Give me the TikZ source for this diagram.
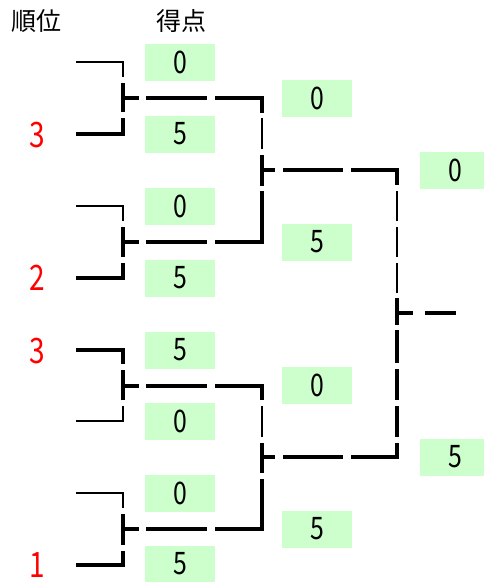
\documentclass[tikz,border=0pt]{standalone}
\usepackage{fontspec}
\setmainfont{Noto Sans CJK JP}
\newfontfamily\narrowdigits[FakeStretch=0.8]{Noto Sans CJK JP}
\definecolor{scoregreen}{HTML}{CCFFCC}
\tikzset{
  win/.style={line width=3.6pt},
  lose/.style={line width=1.2pt},
  score/.style={fill=scoregreen, minimum width=70pt, minimum height=37pt, inner sep=0pt, font=\narrowdigits\fontsize{31}{31}\selectfont},
  rank/.style={text=red, font=\narrowdigits\fontsize{35}{35}\selectfont},
  head/.style={font=\fontsize{25}{25}\selectfont}
}
\begin{document}
\begin{tikzpicture}[x=1pt,y=-1pt]
\useasboundingbox (0,0) rectangle (483,582);
% headers
\node[head] (hrank) at (37,21) {順位};
\node[head] (hscore) at (181,21) {得点};
% ranks
\node[rank] (r1) at (37,135) {3};
\node[rank] (r2) at (37,278) {2};
\node[rank] (r3) at (37,351) {3};
\node[rank] (r4) at (37,565) {1};
% scores
\node[score] (s11) at (180,62) {0};
\node[score] (s12) at (180,134) {5};
\node[score] (s13) at (180,206) {0};
\node[score] (s14) at (180,278) {5};
\node[score] (s15) at (180,350) {5};
\node[score] (s16) at (180,421) {0};
\node[score] (s17) at (180,493) {0};
\node[score] (s18) at (180,564) {5};
\node[score] (s21) at (317,98) {0};
\node[score] (s22) at (317,242) {5};
\node[score] (s23) at (317,385) {0};
\node[score] (s24) at (317,529) {5};
\node[score] (s31) at (455,170) {0};
\node[score] (s32) at (455,457) {5};
% first round
\draw[lose] (76,62) -- (123,62) -- (123,77);
\draw[win] (123,83) -- (123,112);
\draw[win] (76,134) -- (123,134) -- (123,118);
\draw[win] (123,98) -- (139,98);
\draw[win] (146,98) -- (207,98);
\draw[win] (215,98) -- (262,98) -- (262,113);
\draw[lose] (76,206) -- (123,206) -- (123,221);
\draw[win] (123,227) -- (123,257);
\draw[win] (76,278) -- (123,278) -- (123,263);
\draw[win] (123,242) -- (139,242);
\draw[win] (146,242) -- (207,242);
\draw[win] (215,242) -- (262,242) -- (262,191);
\draw[win] (76,350) -- (123,350) -- (123,364);
\draw[win] (123,370) -- (123,400);
\draw[lose] (123,406) -- (123,421) -- (76,421);
\draw[win] (123,386) -- (139,386);
\draw[win] (146,386) -- (207,386);
\draw[win] (215,386) -- (262,386) -- (262,400);
\draw[lose] (76,493) -- (123,493) -- (123,508);
\draw[win] (123,514) -- (123,545);
\draw[win] (76,565) -- (123,565) -- (123,551);
\draw[win] (123,529) -- (139,529);
\draw[win] (146,529) -- (207,529);
\draw[win] (215,529) -- (262,529) -- (262,479);
% second round
\draw[lose] (262,118) -- (262,149);
\draw[win] (262,155) -- (262,186);
\draw[win] (262,170) -- (275,170);
\draw[win] (283,170) -- (343,170);
\draw[win] (351,170) -- (397,170) -- (397,185);
\draw[lose] (262,406) -- (262,437);
\draw[win] (262,443) -- (262,473);
\draw[win] (262,457) -- (275,457);
\draw[win] (283,457) -- (343,457);
\draw[win] (351,457) -- (397,457) -- (397,443);
% final
\draw[lose] (397,191) -- (397,221);
\draw[lose] (397,227) -- (397,257);
\draw[lose] (397,263) -- (397,293);
\draw[win] (397,298) -- (397,325);
\draw[win] (397,330) -- (397,363);
\draw[win] (397,369) -- (397,400);
\draw[win] (397,406) -- (397,437);
\draw[win] (397,313) -- (413,313);
\draw[win] (425,313) -- (456,313);
\end{tikzpicture}
\end{document}
